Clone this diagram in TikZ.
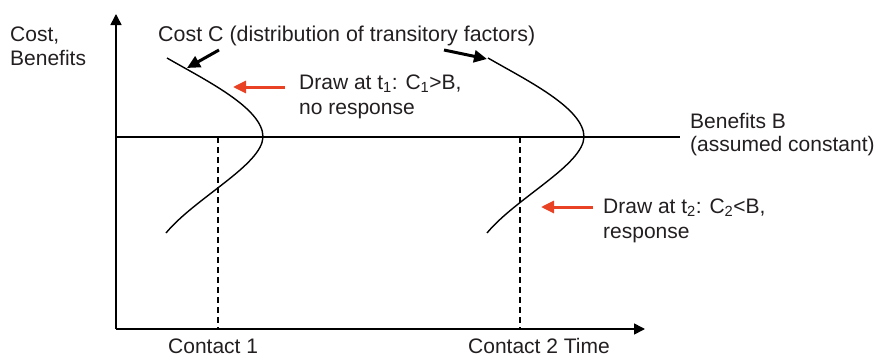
\documentclass[tikz,border=0pt]{standalone}
\usepackage{fontspec}
\setmainfont{Liberation Sans}
\usetikzlibrary{arrows.meta}
\definecolor{ink}{HTML}{231F20}
\definecolor{pointer}{RGB}{232,65,36}
\begin{document}
\begin{tikzpicture}[x=1pt,y=-1pt,
  lbl/.style={anchor=base west, inner sep=0pt, text=ink, font=\fontsize{21}{24}\selectfont},
  axis/.style={line width=1.6pt, -{Triangle[length=11pt,width=11pt]}},
  curve/.style={line width=1.4pt},
  guide/.style={line width=1.2pt, dash pattern=on 6pt off 4pt},
  callout/.style={line width=3pt, -{Triangle[length=13pt,width=12pt]}},
  hint/.style={draw=pointer, line width=3pt, -{Triangle[length=13pt,width=12pt,fill=pointer]}}]
\useasboundingbox (0,0) rectangle (884,356);

% axes
\coordinate (O) at (116,329);
\coordinate (ytip) at (116,14);
\coordinate (xtip) at (645,329);
\draw[axis] (O) -- (ytip);
\draw[axis] (O) -- (xtip);

% constant benefits level
\coordinate (bL) at (116,137);
\coordinate (bR) at (680,137);
\draw[line width=1.4pt] (bL) -- (bR);

% contact dates
\coordinate (c1top) at (218,137);
\coordinate (c1bot) at (218,329);
\coordinate (c2top) at (520,137);
\coordinate (c2bot) at (520,329);
\draw[guide] (c1top) -- (c1bot);
\draw[guide] (c2top) -- (c2bot);

% cost distributions at the two contacts
\foreach \dx/\nm in {0/one, 321/two} {
  \begin{scope}[xshift=\dx pt]
    \coordinate (\nm-top) at (167,58);
    \coordinate (\nm-mid) at (263,137);
    \coordinate (\nm-bot) at (166,233);
    \draw[curve] (\nm-top) .. controls (205,80) and (263,108) .. (\nm-mid)
                 .. controls (262,165) and (195,198) .. (\nm-bot);
  \end{scope}
}

% labels
\node[lbl] (ylab1) at (10,41) {Cost,};
\node[lbl] (ylab2) at (10,65) {Benefits};
\node[lbl, font=\fontsize{21.4}{24}\selectfont] (costlab) at (158,41) {Cost C (distribution of transitory factors)};
\node[lbl] (draw1a) at (299,89) {Draw at t\textsubscript{1}: C\textsubscript{1}>B,};
\node[lbl] (draw1b) at (299,114) {no response};
\node[lbl] (draw2a) at (603,213) {Draw at t\textsubscript{2}: C\textsubscript{2}<B,};
\node[lbl] (draw2b) at (603,238) {response};
\node[lbl] (benlab1) at (690,128) {Benefits B};
\node[lbl] (benlab2) at (690,151) {(assumed constant)};
\node[lbl, text depth=0pt] (contact1) at (168,353) {Contact 1};
\node[lbl, text depth=0pt] (contact2) at (468,353) {Contact 2 Time};

% pointers from the cost label to both curves
\coordinate (p1s) at (219,50);
\coordinate (p1e) at (187,68);
\coordinate (p2s) at (444,50);
\coordinate (p2e) at (487,59);
\draw[callout] (p1s) -- (p1e);
\draw[callout] (p2s) -- (p2e);

% pointers from the draw notes
\coordinate (r1s) at (285,87);
\coordinate (r1e) at (233,87);
\coordinate (r2s) at (593,207);
\coordinate (r2e) at (541,207);
\draw[hint] (r1s) -- (r1e);
\draw[hint] (r2s) -- (r2e);
\end{tikzpicture}
\end{document}
